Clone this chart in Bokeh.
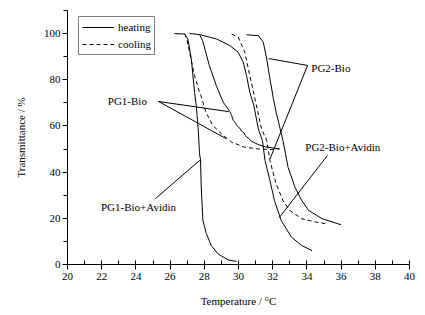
from bokeh.plotting import figure
from bokeh.models import Range1d, SingleIntervalTicker, Legend, LegendItem, ColumnDataSource
from bokeh.core.properties import value
from bokeh.embed import file_html
from bokeh.resources import INLINE

# ---- data ----
pg1_avidin_heat_x = [26.25, 26.85, 27.04, 27.24, 27.43, 27.53, 27.65, 27.72, 27.78, 27.82, 27.92, 28.12, 28.41, 28.8, 29.39, 29.88]
pg1_avidin_heat_y = [100.0, 99.8, 97.7, 89.0, 74.6, 68.8, 58.0, 48.0, 45.3, 33.5, 19.0, 13.4, 8.2, 4.6, 2.0, 1.3]

pg1_bio_cool_x = [26.85, 27.0, 27.14, 27.43, 27.72, 27.8, 28.1, 28.5, 29.0, 29.6, 30.3, 31.06, 31.84, 32.4]
pg1_bio_cool_y = [100.0, 97.0, 91.9, 81.8, 74.6, 73.2, 65.9, 60.2, 56.6, 53.0, 50.9, 50.1, 49.8, 50.1]

pg1_bio_heat_x = [27.14, 27.72, 27.9, 28.3, 28.7, 29.1, 29.5, 29.6, 29.7, 29.8, 29.9, 30.0, 30.1, 30.2, 30.3, 30.4,
                  30.5, 30.6, 30.7, 30.86, 31.2, 31.6, 32.0, 32.4]
pg1_bio_heat_y = [100.0, 99.6, 97.0, 86.0, 77.5, 70.3, 66.2, 64.5, 62.3, 61.6, 60.2, 59.6, 58.7, 57.6, 57.2, 55.9,
                  55.1, 54.7, 53.6, 53.0, 51.8, 50.9, 50.5, 50.1]

pg2_avidin_heat_x = [27.72, 28.7, 29.5, 29.98, 30.28, 30.47, 30.66, 30.9, 31.16, 31.4, 31.55, 31.84, 32.1, 32.5, 33.1, 33.7, 34.3]
pg2_avidin_heat_y = [99.6, 97.7, 94.8, 91.9, 87.6, 81.8, 74.6, 68.8, 58.7, 53.7, 45.0, 36.4, 27.7, 19.0, 11.8, 8.2, 6.0]

pg2_bio_cool_x = [29.6, 29.98, 30.37, 30.66, 30.96, 31.35, 31.65, 31.84, 32.2, 32.6, 33.0, 33.7, 34.5, 35.1]
pg2_bio_cool_y = [99.8, 98.5, 91.9, 81.8, 71.8, 58.7, 53.7, 45.0, 34.9, 27.7, 23.4, 19.8, 18.4, 17.7]

pg2_bio_heat_x = [30.47, 31.16, 31.45, 31.65, 31.84, 32.04, 32.2, 32.6, 32.9, 33.3, 33.7, 34.1, 34.9, 36.0]
pg2_bio_heat_y = [99.5, 99.1, 96.3, 89.0, 80.4, 71.8, 66.0, 53.7, 42.1, 33.5, 27.7, 23.4, 19.8, 17.2]

# annotation labels and leader lines (data coordinates)
label_text = ["PG1-Bio", "PG2-Bio", "PG2-Bio+Avidin", "PG1-Bio+Avidin"]
label_x = [23.5, 35.4, 36.1, 24.15]
label_y = [70.6, 84.9, 50.7, 24.7]

leader_x0 = [25.32, 25.32, 34.04, 34.04, 35.2, 25.15]
leader_y0 = [70.6, 70.6, 86.2, 86.2, 47.2, 28.6]
leader_x1 = [29.43, 29.3, 31.76, 31.84, 32.37, 27.77]
leader_y1 = [66.2, 54.4, 89.2, 45.7, 20.2, 45.3]

x_title = "Temperature / °C"
y_title = "Transmittance / %"

FONT = "Liberation Serif"

p = figure(width=425, height=315, output_backend="svg", toolbar_location=None,
           x_range=Range1d(20, 40), y_range=Range1d(0, 110),
           min_border_left=67, min_border_right=16, min_border_top=10, min_border_bottom=51)
p.outline_line_color = None
p.xgrid.visible = False
p.ygrid.visible = False
p.background_fill_color = "white"
p.border_fill_color = "white"

dash = "4 3"
r_heat = p.line(pg1_bio_heat_x, pg1_bio_heat_y, line_color="black", line_width=1)
r_cool = p.line(pg1_bio_cool_x, pg1_bio_cool_y, line_color="black", line_width=1, line_dash=dash)
p.line(pg1_avidin_heat_x, pg1_avidin_heat_y, line_color="black", line_width=1)
p.line(pg2_avidin_heat_x, pg2_avidin_heat_y, line_color="black", line_width=1)
p.line(pg2_bio_cool_x, pg2_bio_cool_y, line_color="black", line_width=1, line_dash=dash)
p.line(pg2_bio_heat_x, pg2_bio_heat_y, line_color="black", line_width=1)

p.segment(leader_x0, leader_y0, leader_x1, leader_y1, line_color="black", line_width=1)

src = ColumnDataSource(dict(x=label_x, y=label_y, t=label_text))
p.text(x="x", y="y", text="t", source=src, text_font=value(FONT), text_font_size="11px",
       text_align="center", text_baseline="middle", text_color="black")

# axes
p.xaxis.ticker = SingleIntervalTicker(interval=2, num_minor_ticks=2)
p.yaxis.ticker = SingleIntervalTicker(interval=20, num_minor_ticks=2)
for ax in (p.xaxis[0], p.yaxis[0]):
    ax.axis_line_color = "black"
    ax.major_tick_line_color = "black"
    ax.minor_tick_line_color = "black"
    ax.major_label_text_font = FONT
    ax.major_label_text_font_size = "11px"
    ax.major_label_text_color = "black"
    ax.axis_label_text_font = FONT
    ax.axis_label_text_font_size = "11px"
    ax.axis_label_text_font_style = "normal"
    ax.axis_label_text_color = "black"
p.xaxis.major_tick_out = 5
p.xaxis.major_tick_in = 0
p.xaxis.minor_tick_in = 4
p.xaxis.minor_tick_out = 0
p.xaxis.major_label_standoff = 3
p.xaxis.axis_label = x_title
p.xaxis.axis_label_standoff = 12
p.yaxis.major_tick_out = 5
p.yaxis.major_tick_in = 0
p.yaxis.minor_tick_out = 4
p.yaxis.minor_tick_in = 0
p.yaxis.major_label_standoff = 2
p.yaxis.axis_label = y_title
p.yaxis.axis_label_standoff = 14

legend = Legend(items=[LegendItem(label="heating", renderers=[r_heat]),
                       LegendItem(label="cooling", renderers=[r_cool])],
                location=(11, 209))
legend.border_line_color = "black"
legend.border_line_width = 1
legend.background_fill_color = "white"
legend.background_fill_alpha = 1
legend.label_text_font = FONT
legend.label_text_font_size = "11px"
legend.label_text_color = "black"
legend.padding = 3
legend.spacing = 3
legend.margin = 0
legend.glyph_width = 32
legend.glyph_height = 14
legend.label_height = 14
legend.label_standoff = 4
p.add_layout(legend)

open("out.html", "w").write(file_html(p, INLINE))
